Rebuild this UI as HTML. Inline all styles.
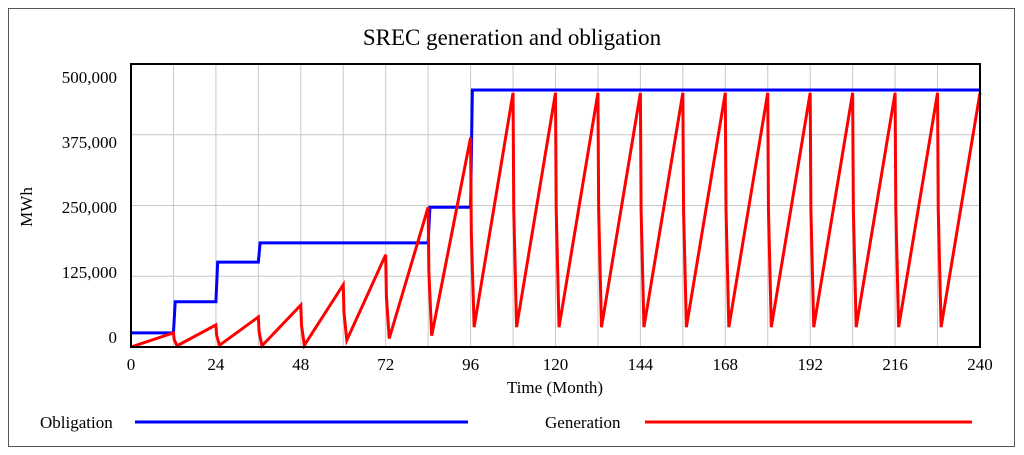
<!DOCTYPE html>
<html><head><meta charset="utf-8"><style>
html,body{margin:0;padding:0;background:#fff;}
svg{display:block;font-family:"Liberation Serif",serif;}
</style></head><body>
<svg id="c" width="1024" height="455">
<rect x="8.5" y="8.5" width="1006" height="438" fill="#fff" stroke="#555"/>
<text x="512" y="45" font-size="23" text-anchor="middle">SREC generation and obligation</text>
<g id="grid"></g>
<g id="series"></g>
<rect x="131" y="64" width="849" height="283" fill="none" stroke="#000" stroke-width="2"/>
<g id="ticks"></g>
<text x="555" y="393" font-size="17" text-anchor="middle">Time (Month)</text>
<text transform="translate(32,207) rotate(-90)" font-size="17" text-anchor="middle">MWh</text>
<text x="40" y="428" font-size="17">Obligation</text>
<line x1="135" y1="422" x2="468" y2="422" stroke="#0000ff" stroke-width="3"/>
<text x="545" y="428" font-size="17">Generation</text>
<line x1="645" y1="422" x2="972" y2="422" stroke="#ff0000" stroke-width="3"/>
</svg>
<script>
const xTicks=[0,24,48,72,96,120,144,168,192,216,240];
const yTicks=[0,125000,250000,375000,500000];
const yTickLabels=["0","125,000","250,000","375,000","500,000"];
const obligationSteps=[25000,80000,150000,184000,184000,184000,184000,247000,454000,454000,454000,454000,454000,454000,454000,454000,454000,454000,454000,454000];
const genPeaks=[25000,39000,53000,74000,110000,163000,247000,370000,449000,449000,449000,449000,449000,449000,449000,449000,449000,449000,449000,449000];
const genTroughs=[2000,3000,2000,3000,12000,15000,20000,35000,35000,35000,35000,35000,35000,35000,35000,35000,35000,35000,35000];
const NS="http://www.w3.org/2000/svg";
const X=t=>131+t/240*849, Y=v=>347-v/500000*283;
const LY=v=>337-v/500000*260;
const grid=document.getElementById('grid'),ticks=document.getElementById('ticks'),ser=document.getElementById('series');
for(let t=12;t<240;t+=12){const l=document.createElementNS(NS,'line');


l.setAttribute('x1',X(t));l.setAttribute('x2',X(t));l.setAttribute('y1',64);l.setAttribute('y2',347);l.setAttribute('stroke','#c8c8c8');grid.appendChild(l);}
yTicks.forEach((v,i)=>{if(v>0&&v<500000){const l=document.createElementNS(NS,'line');


l.setAttribute('x1',131);l.setAttribute('x2',980);l.setAttribute('y1',Y(v));l.setAttribute('y2',Y(v));l.setAttribute('stroke','#c8c8c8');grid.appendChild(l);}
const tx=document.createElementNS(NS,'text');


tx.setAttribute('x',117);tx.setAttribute('y',LY(v)+6);tx.setAttribute('text-anchor','end');tx.setAttribute('font-size','17');tx.textContent=yTickLabels[i];ticks.appendChild(tx);});
xTicks.forEach(t=>{const tx=document.createElementNS(NS,'text');


tx.setAttribute('x',X(t));tx.setAttribute('y',370);tx.setAttribute('text-anchor','middle');tx.setAttribute('font-size','17');tx.textContent=t;ticks.appendChild(tx);});
let op=[];obligationSteps.forEach((v,i)=>{const t0=i*12+(i?0.5:0),t1=(i+1)*12;op.push(X(t0)+','+Y(v),X(t1)+','+Y(v));});
const ob=document.createElementNS(NS,'polyline');


ob.setAttribute('points',op.join(' '));ob.setAttribute('fill','none');ob.setAttribute('stroke','#0000ff');ob.setAttribute('stroke-width','3');ser.appendChild(ob);
let gp=[X(0)+','+Y(0)];genPeaks.forEach((p,i)=>{const t=(i+1)*12;gp.push(X(t)+','+Y(p));
if(i<genTroughs.length){const tr=genTroughs[i];gp.push(X(t+0.2)+','+Y((p+tr)/2),X(t+1)+','+Y(tr));}});
const ge=document.createElementNS(NS,'polyline');


ge.setAttribute('points',gp.join(' '));ge.setAttribute('fill','none');ge.setAttribute('stroke','#ff0000');ge.setAttribute('stroke-width','3');ser.appendChild(ge);
</script>
</body></html>
